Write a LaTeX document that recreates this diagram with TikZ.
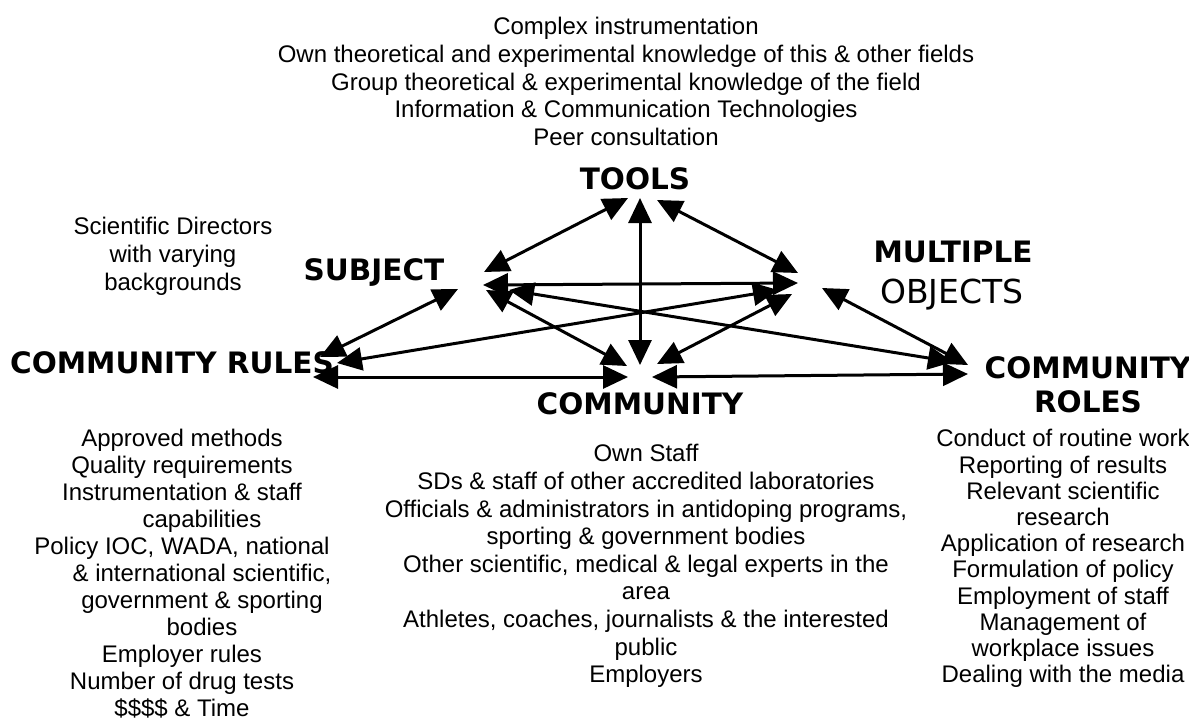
\documentclass[tikz,border=0pt]{standalone}
\usepackage{fontspec}
\setmainfont{Liberation Sans}
\newfontfamily\headfont{DejaVu Sans}
\usetikzlibrary{arrows.meta,calc}

\begin{document}
\begin{tikzpicture}[x=1pt,y=-1pt,
  every node/.style={inner sep=0pt, outer sep=0pt},
  body/.style={align=center, anchor=north, font=\fontsize{24}{27.6}\selectfont},
  head/.style={anchor=base, font=\headfont\bfseries\fontsize{29.5}{34}\selectfont},
  link/.style={line width=3pt,
    {Triangle[length=25pt,width=23pt]}-{Triangle[length=25pt,width=23pt]}}
]
\useasboundingbox (0,0) rectangle (1189,724);

% ---- meeting points of the activity system ----
\coordinate (T) at (640,210);  % tools
\coordinate (S) at (495,283);  % subject
\coordinate (M) at (790,285);  % multiple objects
\coordinate (C) at (640,372);  % community
\coordinate (R) at (320,365);  % community rules
\coordinate (O) at (960,368);  % community roles
\coordinate (Sx) at (458,289); % loose head by the subject label
\coordinate (Mx) at (822,288); % loose head by the objects label

% ---- labels ----
\node[body] (toolslist) at (626,17.5) {Complex instrumentation\\
  Own theoretical and experimental knowledge of this \& other fields\\
  Group theoretical \& experimental knowledge of the field\\
  Information \& Communication Technologies\\
  Peer consultation};
\node[head] (tools) at (635,189) {TOOLS};
\node[body] (sds) at (173,217.5) {Scientific Directors\\with varying\\backgrounds};
\node[head] (subject) at (374,280) {SUBJECT};
\node[head] (mult) at (953,262) {MULTIPLE};
\node[anchor=base, font=\headfont\fontsize{33}{38}\selectfont] (obj) at (952,303) {OBJECTS};
\node[head] (rules) at (172,373) {COMMUNITY RULES};
\node[head] (community) at (640,414) {COMMUNITY};
\node[head, anchor=north, align=center] (roles) at (1088,356.5) {COMMUNITY\\ROLES};

\node[body, font=\fontsize{24}{27}\selectfont] (ruleslist) at (182,429.5) {Approved methods\\
  Quality requirements\\
  Instrumentation \& staff\\
  \hspace*{40pt}capabilities\\
  Policy IOC, WADA, national\\
  \hspace*{40pt}\& international scientific,\\
  \hspace*{40pt}government \& sporting\\
  \hspace*{40pt}bodies\\
  Employer rules\\
  Number of drug tests\\
  \$\$\$\$ \& Time};
\node[body] (commlist) at (646,444.5) {Own Staff\\
  SDs \& staff of other accredited laboratories\\
  Officials \& administrators in antidoping programs,\\
  sporting \& government bodies\\
  Other scientific, medical \& legal experts in the\\
  area\\
  Athletes, coaches, journalists \& the interested\\
  public\\
  Employers};
\node[body, font=\fontsize{24}{26.2}\selectfont] (roleslist) at (1063,429.5) {Conduct of routine work\\
  Reporting of results\\
  Relevant scientific\\
  research\\
  Application of research\\
  Formulation of policy\\
  Employment of staff\\
  Management of\\
  workplace issues\\
  Dealing with the media};

% ---- connectors ----
\draw[link] ($(T)+(-12,-12)$) -- ($(S)+(-11,-11)$);
\draw[link] ($(T)+(0,-12)$)   -- ($(C)+(0,-7)$);
\draw[link] ($(T)+(17,-10)$)  -- ($(M)+(8,-12)$);
\draw[link] ($(S)+(-12,2)$)   -- ($(M)+(8,-2)$);
\draw[link] ($(S)+(14,7)$)    -- ($(O)+(-7,-6)$);
\draw[link] ($(S)+(-9,7)$)    -- ($(C)+(-13,-6)$);
\draw[link] ($(R)+(17,-2)$)   -- ($(M)+(-12,5)$);
\draw[link] ($(M)+(2,9)$)     -- ($(C)+(17,-8)$);
\draw[link] ($(R)+(-7,12)$)   -- ($(C)+(-12,5)$);
\draw[link] ($(C)+(12,5)$)    -- ($(O)+(8,6)$);
\draw[link] ($(R)+(0,-8)$)    -- (Sx);
\draw[link] (Mx)              -- ($(O)+(8,-3)$);
\end{tikzpicture}
\end{document}
